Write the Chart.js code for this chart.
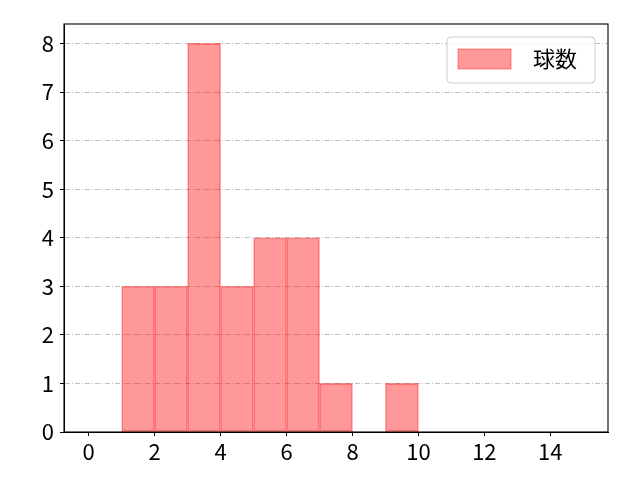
<!DOCTYPE html>
<html>
<head>
<meta charset="utf-8">
<script src="https://cdn.jsdelivr.net/npm/chart.js@4/dist/chart.umd.min.js"></script>
<style>
html,body{margin:0;padding:0;background:#fff;}
#wrap{width:640px;height:480px;position:relative;}
</style>
</head>
<body>
<div id="wrap"><canvas id="c" width="640" height="480"></canvas></div>
<script>
const seriesLabel = '球数';
const binCenters = [1.5, 2.5, 3.5, 4.5, 5.5, 6.5, 7.5, 8.5, 9.5];
const counts = [3, 3, 8, 3, 4, 4, 1, 0, 1];
const xTicks = [0, 2, 4, 6, 8, 10, 12, 14];
const yTicks = [0, 1, 2, 3, 4, 5, 6, 7, 8];

const FONT = "'Noto Sans CJK JP', 'DejaVu Sans', sans-serif";

const framePlugin = {
  id: 'frame',
  afterDraw(chart) {
    const ctx = chart.ctx, a = chart.chartArea;
    ctx.save();
    ctx.strokeStyle = '#000';
    ctx.lineWidth = 1.1;
    ctx.strokeRect(a.left, a.top, a.right - a.left, a.bottom - a.top);
    // legend
    const bx = a.right - 161, by = a.top + 13, bw = 148, bh = 46;
    ctx.fillStyle = 'rgba(255,255,255,0.8)';
    ctx.strokeStyle = '#cccccc';
    ctx.lineWidth = 1;
    ctx.beginPath();
    ctx.roundRect(bx, by, bw, bh, 4);
    ctx.fill();
    ctx.stroke();
    const ds = chart.data.datasets[0];
    ctx.fillStyle = ds.backgroundColor;
    ctx.fillRect(bx + 11, by + 12, 53, 20);
    ctx.strokeStyle = ds.borderColor;
    ctx.strokeRect(bx + 11, by + 12, 53, 20);
    ctx.fillStyle = '#000';
    ctx.font = '22px ' + FONT;
    ctx.textBaseline = 'middle';
    ctx.textAlign = 'left';
    ctx.fillText(ds.label, bx + 86, by + 22);
    ctx.restore();
  }
};

new Chart(document.getElementById('c'), {
  type: 'bar',
  data: {
    datasets: [{
      label: seriesLabel,
      data: binCenters.map((x, i) => ({x: x, y: counts[i]})),
      backgroundColor: 'rgba(255,0,0,0.4)',
      borderColor: 'rgba(255,0,0,0.4)',
      borderWidth: 1,
      borderSkipped: false,
      barPercentage: 1.0,
      categoryPercentage: 1.0
    }]
  },
  options: {
    responsive: false,
    animation: false,
    devicePixelRatio: 1,
    layout: {padding: {top: 24, right: 32, left: 0, bottom: 0}},
    plugins: {legend: {display: false}, tooltip: {enabled: false}},
    scales: {
      x: {
        type: 'linear',
        offset: false,
        min: -0.75,
        max: 15.75,
        afterBuildTicks: (axis) => { axis.ticks = xTicks.map(v => ({value: v})); },
        afterFit: (axis) => { axis.height = 48; },
        grid: {offset: false, drawOnChartArea: false, drawTicks: true, tickLength: 4, tickColor: '#000', tickWidth: 1},
        border: {display: true, color: '#000', width: 1},
        ticks: {color: '#000', font: {family: FONT, size: 22}, padding: 2, maxRotation: 0, autoSkip: false}
      },
      y: {
        type: 'linear',
        min: 0,
        max: 8.4,
        afterBuildTicks: (axis) => { axis.ticks = yTicks.map(v => ({value: v})); },
        afterFit: (axis) => { axis.width = 64; },
        grid: {drawOnChartArea: true, drawTicks: true, tickLength: 4, color: '#b0b0b0', lineWidth: 0.8, tickColor: '#000', tickWidth: 1, tickBorderDash: []},
        border: {display: true, color: '#000', width: 1, dash: [5, 2, 1, 2]},
        ticks: {color: '#000', font: {family: FONT, size: 22}, padding: 6, autoSkip: false}
      }
    }
  },
  plugins: [framePlugin]
});
</script>
</body>
</html>
